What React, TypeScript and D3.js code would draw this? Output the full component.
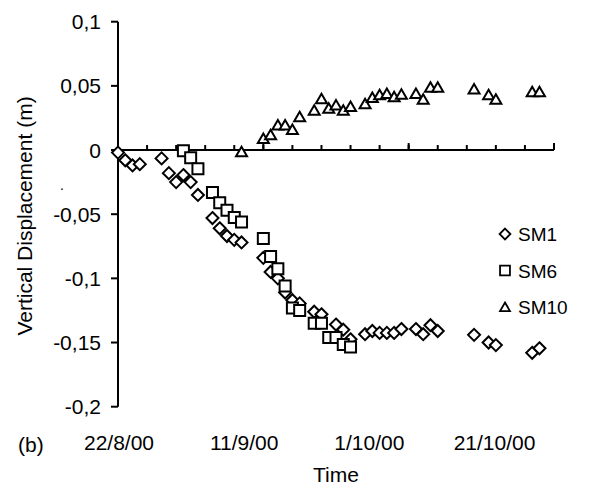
import React from 'react'
import * as d3 from 'd3'

// readings taken off the plot (date as d/m/yy, displacement in m)
const sm1Dates = ['22/8/00', '23/8/00', '24/8/00', '25/8/00', '28/8/00', '29/8/00', '30/8/00', '31/8/00', '1/9/00', '2/9/00',
  '4/9/00', '5/9/00', '6/9/00', '7/9/00', '8/9/00', '11/9/00', '12/9/00', '13/9/00', '14/9/00', '15/9/00',
  '16/9/00', '18/9/00', '19/9/00', '21/9/00', '22/9/00', '23/9/00', '25/9/00', '26/9/00', '27/9/00', '28/9/00',
  '29/9/00', '30/9/00', '2/10/00', '3/10/00', '4/10/00', '5/10/00', '10/10/00', '12/10/00', '13/10/00', '18/10/00', '19/10/00']
const sm1Values = [-0.002, -0.008, -0.012, -0.011, -0.0065, -0.018, -0.025, -0.0195, -0.025, -0.035,
  -0.053, -0.061, -0.067, -0.070, -0.072, -0.084, -0.095, -0.100, -0.111, -0.117,
  -0.1195, -0.126, -0.128, -0.136, -0.140, -0.1475, -0.1435, -0.141, -0.1425, -0.1425,
  -0.1425, -0.1395, -0.1395, -0.1435, -0.1365, -0.141, -0.144, -0.150, -0.152, -0.158, -0.1545]

const sm6Dates = ['31/8/00', '1/9/00', '2/9/00', '4/9/00', '5/9/00', '6/9/00', '7/9/00', '8/9/00', '11/9/00', '12/9/00',
  '13/9/00', '14/9/00', '15/9/00', '16/9/00', '18/9/00', '19/9/00', '20/9/00', '21/9/00', '22/9/00', '23/9/00']
const sm6Values = [-0.0005, -0.006, -0.0145, -0.033, -0.041, -0.047, -0.0525, -0.056, -0.069, -0.083,
  -0.0925, -0.106, -0.123, -0.125, -0.135, -0.135, -0.146, -0.146, -0.1515, -0.1535]

const sm10Dates = ['8/9/00', '11/9/00', '12/9/00', '13/9/00', '14/9/00', '15/9/00', '16/9/00', '18/9/00', '19/9/00', '20/9/00',
  '21/9/00', '22/9/00', '23/9/00', '25/9/00', '26/9/00', '27/9/00', '28/9/00', '29/9/00', '30/9/00', '2/10/00',
  '3/10/00', '4/10/00', '5/10/00', '10/10/00', '12/10/00', '13/10/00', '18/10/00', '19/10/00']
const sm10Values = [-0.0013, 0.009, 0.012, 0.0195, 0.0195, 0.016, 0.026, 0.031, 0.040, 0.0325,
  0.035, 0.031, 0.034, 0.036, 0.041, 0.043, 0.044, 0.0415, 0.0435, 0.044,
  0.0395, 0.049, 0.049, 0.0475, 0.043, 0.0395, 0.0455, 0.0455]

const xTickLabels = ['22/8/00', '11/9/00', '1/10/00', '21/10/00']
const yTicks = [0.1, 0.05, 0, -0.05, -0.1, -0.15, -0.2]
const seriesNames = ['SM1', 'SM6', 'SM10']

const parse = d3.utcParse('%d/%m/%y')
const locale = d3.formatLocale({ decimal: ',', thousands: '.', grouping: [3], currency: ['', ''], minus: '-' })
const fmtY = locale.format('.2~f')

const FONT = '"Liberation Sans", Arial, sans-serif'

function marker(kind: string) {
  if (kind === 'SM1') return 'M0,-6L6,0L0,6L-6,0Z'
  if (kind === 'SM6') return 'M-5.5,-5.5H5.5V5.5H-5.5Z'
  return 'M0,-5L5.5,4.5H-5.5Z'
}

export default function App() {
  const width = 611
  const height = 489

  const x = d3.scaleUtc()
    .domain([parse(xTickLabels[0])!, parse(xTickLabels[xTickLabels.length - 1])!])
    .range([118, 554])
  const y = d3.scaleLinear().domain([-0.2, 0.1]).range([406.7, 21.7])
  // the labels under the plot are spread evenly, not on the date ticks
  const labelX = d3.scalePoint<string>().domain(xTickLabels).range([119, 494.5])

  const minorTicks = d3.utcDay.range(x.domain()[0], d3.utcDay.offset(x.domain()[1], 1), 4)
  const majorTicks = d3.utcDay.range(x.domain()[0], d3.utcDay.offset(x.domain()[1], 1), 20)

  const series = [
    { name: seriesNames[0], dates: sm1Dates, values: sm1Values },
    { name: seriesNames[1], dates: sm6Dates, values: sm6Values },
    { name: seriesNames[2], dates: sm10Dates, values: sm10Values },
  ]

  return (
    <svg width={width} height={height} style={{ position: 'absolute', left: 0, top: 0, background: '#fff' }}
      fontFamily={FONT}>
      {/* y axis */}
      <line x1={118} x2={118} y1={y(0.1)} y2={y(-0.2)} stroke="#000" strokeWidth={2} />
      {yTicks.map(t => (
        <g key={t}>
          <line x1={111} x2={118} y1={y(t)} y2={y(t)} stroke="#000" strokeWidth={2} />
          <text x={101} y={y(t)} dy="0.36em" textAnchor="end" fontSize={21}>{fmtY(t)}</text>
        </g>
      ))}

      {/* x axis along zero */}
      <line x1={x.range()[0]} x2={x.range()[1]} y1={y(0)} y2={y(0)} stroke="#000" strokeWidth={2} />
      {minorTicks.map(d => (
        <line key={+d} x1={x(d)} x2={x(d)} y1={y(0)} y2={y(0) - 5} stroke="#000" strokeWidth={2} />
      ))}
      {majorTicks.map(d => (
        <line key={+d} x1={x(d)} x2={x(d)} y1={y(0)} y2={y(0) - 7} stroke="#000" strokeWidth={2} />
      ))}
      {xTickLabels.map(l => (
        <text key={l} x={labelX(l)} y={450} textAnchor="middle" fontSize={21}>{l}</text>
      ))}

      {/* data */}
      {series.map(s => (
        <g key={s.name}>
          {s.dates.map((d, i) => (
            <path key={i} d={marker(s.name)}
              transform={`translate(${x(parse(d)!)},${y(s.values[i])})`}
              fill="#fff" stroke="#000" strokeWidth={2} />
          ))}
        </g>
      ))}

      {/* legend */}
      {seriesNames.map((n, i) => (
        <g key={n} transform={`translate(505,${234 + i * 36.5})`}>
          <path d={marker(n)} transform="scale(0.9)" fill="#fff" stroke="#000" strokeWidth={2} />
          <text x={13} y={7} fontSize={19}>{n}</text>
        </g>
      ))}

      {/* titles */}
      <text transform="translate(32,216) rotate(-90)" textAnchor="middle" fontSize={21}>Vertical Displacement (m)</text>
      <text x={62} y={190} textAnchor="middle" fontSize={14}>.</text>
      <text x={336} y={482} textAnchor="middle" fontSize={21}>Time</text>
      <text x={18} y={452} fontSize={21}>(b)</text>
    </svg>
  )
}
